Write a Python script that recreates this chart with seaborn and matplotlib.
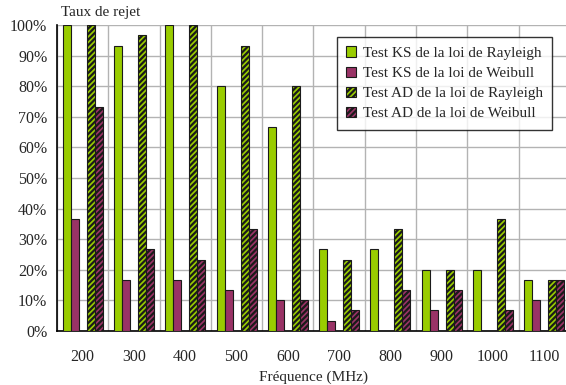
import pandas as pd
import matplotlib
matplotlib.use("Agg")
import matplotlib.pyplot as plt
import seaborn as sns
from matplotlib.patches import Patch

# data (rejection rate, %)
freqs = ["200", "300", "400", "500", "600", "700", "800", "900", "1000", "1100"]
ks_rayleigh = [100, 93.3, 100, 80, 66.7, 26.7, 26.7, 20, 20, 16.7]
ks_weibull = [36.7, 16.7, 16.7, 13.3, 10, 3.3, 0, 6.7, 0, 10]
ad_rayleigh = [100, 96.7, 100, 93.3, 80, 23.3, 33.3, 20, 36.7, 16.7]
ad_weibull = [73.3, 26.7, 23.3, 33.3, 10, 6.7, 13.3, 13.3, 6.7, 16.7]

series = ["Test KS de la loi de Rayleigh", "Test KS de la loi de Weibull",
          "Test AD de la loi de Rayleigh", "Test AD de la loi de Weibull"]
green = "#99cc00"
purple = "#993366"

rows = []
for name, vals in zip(series, [ks_rayleigh, ks_weibull, ad_rayleigh, ad_weibull]):
    for f, v in zip(freqs, vals):
        rows.append({"freq": f, "test": name, "taux": v})
df = pd.DataFrame(rows)

# empty level keeps a gap between the KS pair and the AD pair
hue_order = series[:2] + ["gap"] + series[2:]
palette = {series[0]: green, series[1]: purple, "gap": "white",
           series[2]: green, series[3]: purple}

sns.set_style("white")
plt.rcParams["font.family"] = ["Liberation Serif", "DejaVu Serif"]
plt.rcParams["hatch.linewidth"] = 1.6
plt.rcParams["hatch.color"] = "#1a1a1a"

fig = plt.figure(figsize=(5.66, 3.85), dpi=100)
ax = fig.add_axes([0.1007, 0.1403, 0.9063, 0.7947])

sns.barplot(data=df, x="freq", y="taux", hue="test", order=freqs,
            hue_order=hue_order, palette=palette, width=0.78,
            edgecolor="#1a1a1a", linewidth=0.8, saturation=1,
            legend=False, ax=ax, zorder=3)

# hatch the AD bars (right half of each group), hide empty bars
for p in ax.patches:
    c = p.get_x() + p.get_width() / 2
    if c - round(c) > 0.02:
        p.set_hatch("//////")
    if p.get_height() == 0:
        p.set_visible(False)

ax.set_ylim(0, 100)
ax.set_xlim(-0.5, len(freqs) - 0.5)
ax.set_yticks(range(0, 101, 10))
ax.set_yticklabels([f"{v}%" for v in range(0, 101, 10)], fontsize=11.5)

# boundaries as major ticks + vertical grid, labels on minor ticks
ax.set_xticks([i - 0.5 for i in range(len(freqs) + 1)])
ax.set_xticklabels([])
ax.set_xticks(range(len(freqs)), minor=True)
ax.set_xticklabels(freqs, minor=True, fontsize=11.5)
ax.tick_params(axis="x", which="major", direction="out", length=5, width=1, color="black")
ax.tick_params(axis="x", which="minor", length=0, pad=13)
ax.tick_params(axis="y", direction="out", length=4, width=1, color="black", pad=3)

ax.grid(True, which="major", color="#b3b3b3", linewidth=1, zorder=0)
ax.set_axisbelow(True)
for s in ["top", "right"]:
    ax.spines[s].set_visible(False)
ax.spines["left"].set_color("black")
ax.spines["bottom"].set_color("black")
ax.spines["left"].set_linewidth(1.2)
ax.spines["bottom"].set_linewidth(1.2)

ax.set_xlabel("Fréquence (MHz)", fontsize=11, labelpad=4)
ax.set_ylabel("")
fig.text(0.108, 0.968, "Taux de rejet", fontsize=11, va="center", ha="left")

handles = [Patch(facecolor=green, edgecolor="#1a1a1a", linewidth=0.8),
           Patch(facecolor=purple, edgecolor="#1a1a1a", linewidth=0.8),
           Patch(facecolor=green, edgecolor="#1a1a1a", linewidth=0.8, hatch="//////"),
           Patch(facecolor=purple, edgecolor="#1a1a1a", linewidth=0.8, hatch="//////")]
leg = ax.legend(handles, series, loc="upper left", bbox_to_anchor=(0.545, 0.96),
                fontsize=11, frameon=True, fancybox=False, edgecolor="black",
                handlelength=0.7, handleheight=0.7, handletextpad=0.45,
                borderpad=0.6, labelspacing=0.42, borderaxespad=0)
leg.get_frame().set_linewidth(1)

fig.savefig("out.png", dpi=100)
